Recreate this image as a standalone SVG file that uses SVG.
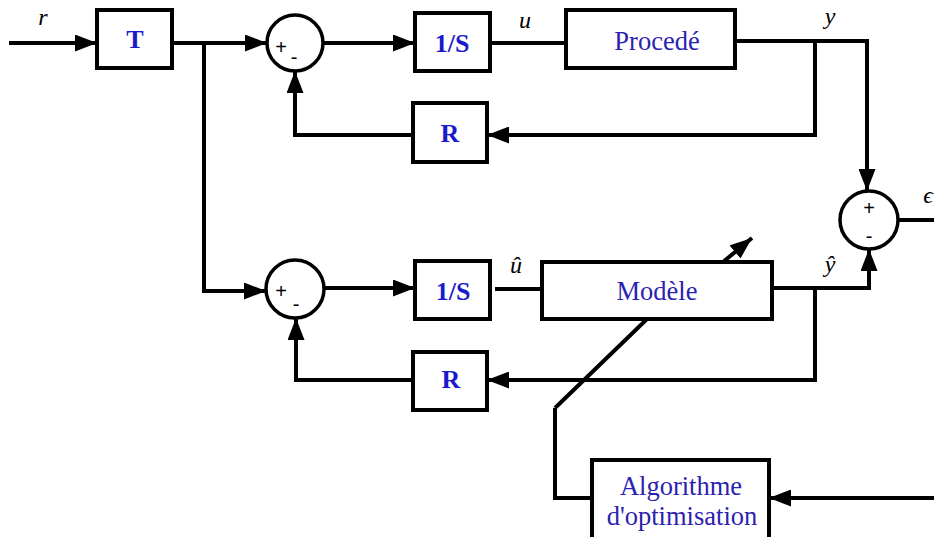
<svg xmlns="http://www.w3.org/2000/svg" width="934" height="537" viewBox="0 0 934 537">
<style>
.box{fill:#fff;stroke:#000;stroke-width:4}
.sum{fill:#fff;stroke:#000;stroke-width:3.5}
.ln{fill:none;stroke:#000;stroke-width:4;stroke-linejoin:miter}
.arr{marker-end:url(#ah)}
.bt{font-weight:bold;font-size:26px;fill:#1a1acd;text-anchor:middle}
.rt{font-size:26.5px;fill:#2b22b0;text-anchor:middle}
.lb{font-style:italic;font-size:24px;fill:#000;text-anchor:middle}
.sg{fill:#000;text-anchor:middle}
</style>
<defs>
<marker id="ah" markerUnits="userSpaceOnUse" markerWidth="22" markerHeight="17" refX="22" refY="8.5" orient="auto">
<path d="M0,0 L22,8.5 L0,17 z" fill="#000"/>
</marker>
</defs>
<g id="connectors">
<path class="ln arr" d="M9,43 H97"/>
<path class="ln arr" d="M172,43 H267"/>
<path class="ln arr" d="M204,43 V291 H266"/>
<path class="ln arr" d="M323,43 H415"/>
<path class="ln" d="M490,43 H566"/>
<path class="ln arr" d="M735,41 H867 V191"/>
<path class="ln arr" d="M815,41 V135 H487"/>
<path class="ln arr" d="M413,135 H295 V71"/>
<path class="ln arr" d="M324,288 H415"/>
<path class="ln" d="M495,289 H542"/>
<path class="ln arr" d="M772,288 H869 V249"/>
<path class="ln arr" d="M815,288 V380 H487"/>
<path class="ln arr" d="M413,380 H296 V318"/>
<path class="ln arr" d="M555,408 L647,319 L723,262 L752,238"/>
<path class="ln" d="M555,408 V498 H592"/>
<path class="ln arr" d="M934,498 H769"/>
<path class="ln" d="M898,220 H934"/>
</g>
<g font-family="Liberation Serif, Times New Roman, serif">
<g id="T"><rect class="box" x="97" y="10" width="75" height="58"/><text class="bt" x="135" y="48">T</text></g>
<g id="integ1"><rect class="box" x="415" y="13" width="75" height="58"/><text class="bt" x="452" y="52">1/S</text></g>
<g id="procede"><rect class="box" x="566" y="10" width="169" height="58"/><text class="rt" x="657" y="50">Procedé</text></g>
<g id="R1"><rect class="box" x="413" y="103" width="74" height="59"/><text class="bt" x="450" y="142">R</text></g>
<g id="integ2"><rect class="box" x="415" y="261" width="75" height="58"/><text class="bt" x="453" y="300">1/S</text></g>
<g id="modele"><rect class="box" x="542" y="262" width="230" height="57"/><text class="rt" x="657" y="300">Modèle</text></g>
<g id="R2"><rect class="box" x="413" y="352" width="74" height="58"/><text class="bt" x="451" y="388">R</text></g>
<g id="algo"><rect class="box" x="592" y="460" width="177" height="80"/><text class="rt" x="681" y="495">Algorithme</text><text class="rt" x="682" y="525">d'optimisation</text></g>
<g id="labels">
<text class="lb" x="43" y="25">r</text>
<text class="lb" x="525" y="28">u</text>
<text class="lb" x="830" y="24">y</text>
<text class="lb" x="928" y="203">ϵ</text>
<text class="lb" x="830" y="272">ŷ</text>
<text class="lb" x="516" y="273">û</text>
</g>
</g>
<g font-family="Liberation Sans, Arial, sans-serif" font-size="20">
<g id="sum1"><circle class="sum" cx="295" cy="43" r="28"/><text class="sg" x="281" y="54">+</text><text class="sg" x="294" y="64">-</text></g>
<g id="sum2"><circle class="sum" cx="295" cy="289" r="29"/><text class="sg" x="281" y="298">+</text><text class="sg" x="296" y="311">-</text></g>
<g id="sum3"><circle class="sum" cx="869" cy="220" r="29"/><text class="sg" x="869" y="215">+</text><text class="sg" x="869" y="243">-</text></g>
</g>
</svg>
